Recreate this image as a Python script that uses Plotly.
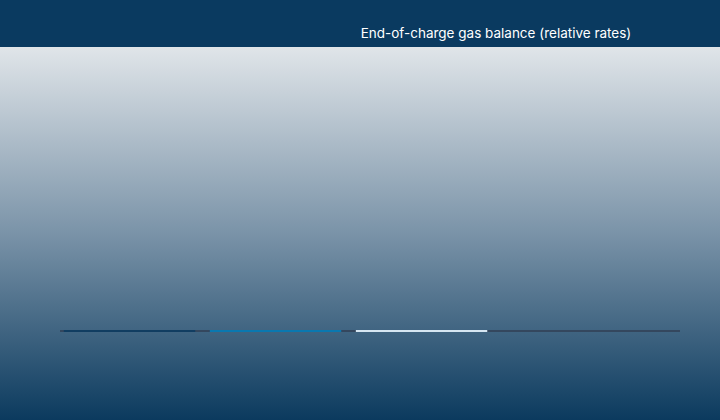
import base64
import plotly.graph_objects as go

# gas balance terms (relative rates), read as ~0 from the picture
terms = ["O2 evolved", "O2 recombined", "H2 evolved"]
rates = [0.003, 0.003, 0.003]
bar_colors = ["#113d61", "#0a78b0", "#d6e6f2"]

title = "End-of-charge gas balance (relative rates)"

# vertical gradient behind the plot (light grey at top -> navy at bottom)
svg = (
    '<svg xmlns="http://www.w3.org/2000/svg" width="720" height="373" preserveAspectRatio="none">'
    '<defs><linearGradient id="g" x1="0" y1="0" x2="0" y2="1">'
    '<stop offset="0" stop-color="#e0e5e9"/>'
    '<stop offset="0.5" stop-color="#7a93a8"/>'
    '<stop offset="1" stop-color="#0b3a5e"/>'
    '</linearGradient></defs>'
    '<rect width="720" height="373" fill="url(#g)"/></svg>'
)
bg = "data:image/svg+xml;base64," + base64.b64encode(svg.encode()).decode()

fig = go.Figure()
fig.add_trace(go.Bar(
    x=terms, y=rates,
    marker=dict(color=bar_colors, line=dict(width=0)),
    hoverinfo="skip",
))

top, bottom = 47, 40
plot_h = 420 - top - bottom
fig.add_layout_image(
    source=bg, xref="paper", yref="paper",
    x=-60 / 620, y=1, sizex=720 / 620, sizey=(420 - top) / plot_h,
    xanchor="left", yanchor="top", sizing="stretch", layer="below",
)

fig.update_layout(
    width=720, height=420,
    margin=dict(l=60, r=40, t=top, b=bottom),
    paper_bgcolor="#0a3a60",
    plot_bgcolor="rgba(0,0,0,0)",
    bargap=0.1,
    showlegend=False,
    title=dict(text=title, x=496 / 720, xanchor="center", y=1 - 33 / 420, yanchor="middle",
               font=dict(family="Inter", size=13.5, color="#ffffff")),
    xaxis=dict(range=[-0.476, 3.77], showticklabels=False, showgrid=False, zeroline=False,
               showline=False, ticks=""),
    yaxis=dict(range=[-0.147, 0.853], showticklabels=False, showgrid=False,
               zeroline=True, zerolinecolor="#34475e", zerolinewidth=2),
)

fig.write_html("out.html", config={"displayModeBar": False},
               post_script="document.body.style.margin='0';")
